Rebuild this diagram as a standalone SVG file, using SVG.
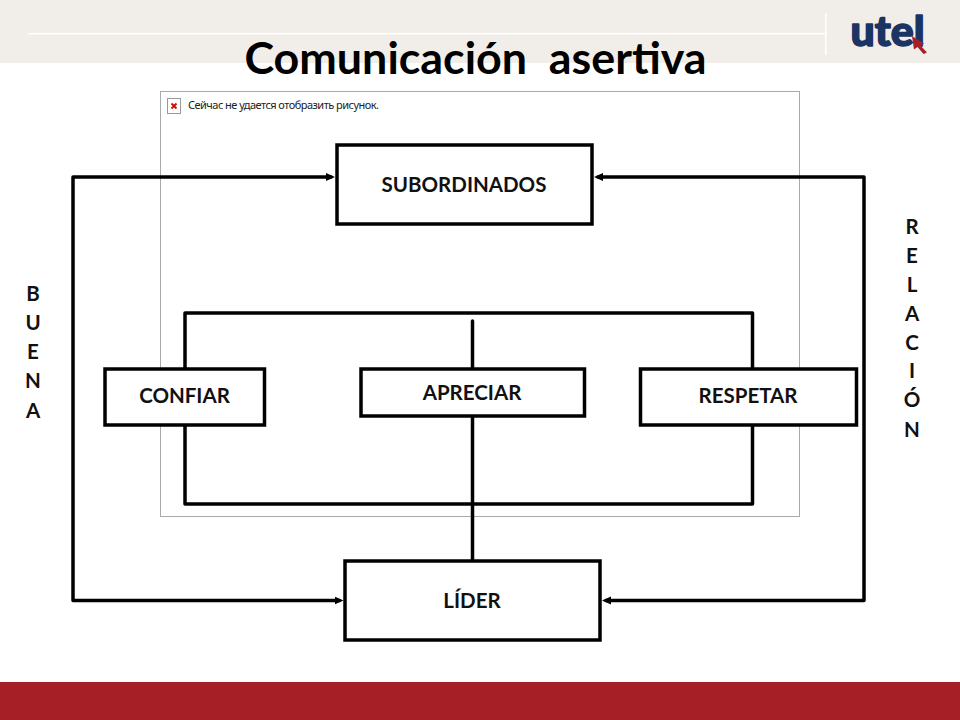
<svg xmlns="http://www.w3.org/2000/svg" width="960" height="720" viewBox="0 0 960 720">
<style>
.t{font-family:"Lato","Open Sans","Liberation Sans",sans-serif;font-weight:700;fill:#111;text-anchor:middle}
.l{font-size:20.500px}
.b{fill:#fff;stroke:#000;stroke-width:3.500}
.c{fill:none;stroke:#000;stroke-width:3.500;stroke-linejoin:round;stroke-linecap:round}
</style>
<defs>
<marker id="a" markerUnits="userSpaceOnUse" markerWidth="10" markerHeight="10" refX="5" refY="5" orient="auto-start-reverse"><path d="M0 1L9 5L0 9z" fill="#000"/></marker>
</defs>
<rect width="960" height="720" fill="#fff"/>
<g id="header">
<rect width="960" height="63" fill="#f1eee9"/>
<rect x="28" y="33" width="797" height="1.500" fill="#fff"/>
<rect x="825" y="13" width="1.500" height="42" fill="#fff"/>
<text x="887.500" y="46" text-anchor="middle" style="font-family:'Lato','Open Sans',sans-serif;font-weight:900;font-size:42px;fill:#1a3464;stroke:#1a3464;stroke-width:1.500;stroke-linejoin:round" textLength="74" lengthAdjust="spacingAndGlyphs">utel</text>
<path d="M912 36L924 43.500L920.500 45.500L927 52.500L923.500 54L917.500 47L914 49.500z" fill="#a81f27"/>
</g>
<rect id="footer" y="682" width="960" height="38" fill="#a61e26"/>
<text id="title" class="t" x="475.500" y="74" font-size="44.800" xml:space="preserve" style="white-space:pre;fill:#000">Comunicación  asertiva</text>
<g id="broken-image">
<rect x="160.500" y="91.500" width="639" height="425" fill="#fff" stroke="#aaa" stroke-width="1"/>
<rect x="167.500" y="98.500" width="13" height="15" fill="#fff" stroke="#999"/>
<path d="M171.500 103.500l5 5m0-5l-5 5" stroke="#d00" stroke-width="1.800" fill="none"/>
<text x="188" y="109" font-size="11" style="font-family:'Noto Sans','Liberation Sans',sans-serif;fill:#222" textLength="191">Сейчас не удается отобразить рисунок.</text>
</g>
<g id="connectors">
<path class="c" d="M185 368V313H752.500V368M472.500 321V368M185 425V504H752.500V425M472.500 416V560"/>
<path class="c" d="M331 177H73V600.500H339.500" marker-start="url(#a)" marker-end="url(#a)"/>
<path class="c" d="M598 177H864V600.500H606" marker-start="url(#a)" marker-end="url(#a)"/>
</g>
<g id="subordinados"><rect class="b" x="337" y="145" width="255" height="79"/><text class="t l" x="464" y="192">SUBORDINADOS</text></g>
<g id="confiar"><rect class="b" x="105" y="369" width="159.500" height="56"/><text class="t l" x="184.500" y="403">CONFIAR</text></g>
<g id="apreciar"><rect class="b" x="361" y="369" width="223.500" height="47"/><text class="t l" x="472" y="400">APRECIAR</text></g>
<g id="respetar"><rect class="b" x="640.500" y="369" width="216" height="56"/><text class="t l" x="748" y="403">RESPETAR</text></g>
<g id="lider"><rect class="b" x="345" y="561" width="255" height="79"/><text class="t l" x="472" y="608">LÍDER</text></g>
<g id="buena">
<text class="t l" x="33" y="301">B</text><text class="t l" x="33" y="330">U</text><text class="t l" x="33" y="359">E</text><text class="t l" x="33" y="388">N</text><text class="t l" x="33" y="418">A</text>
</g>
<g id="relacion">
<text class="t l" x="912" y="234">R</text><text class="t l" x="912" y="263">E</text><text class="t l" x="912" y="292">L</text><text class="t l" x="912" y="321">A</text><text class="t l" x="912" y="350">C</text><text class="t l" x="912" y="378">I</text><text class="t l" x="912" y="407">Ó</text><text class="t l" x="912" y="437">N</text>
</g>
</svg>
